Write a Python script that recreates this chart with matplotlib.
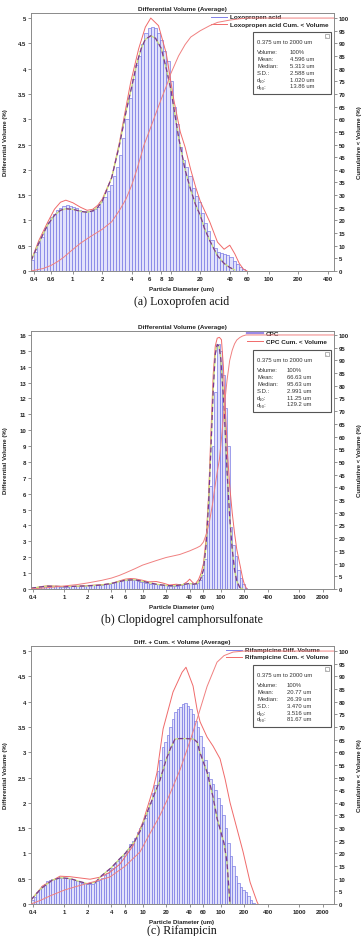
import numpy as np
import matplotlib
matplotlib.use("Agg")
import matplotlib.pyplot as plt
from matplotlib.patches import Rectangle

plt.rcParams['font.family'] = ['Liberation Sans', 'DejaVu Sans']

# LS analyser channel grid: 116 log-spaced channels from 0.375 um to 2000 um
edges = np.geomspace(0.375, 2000, 117)

# ---------------- (a) Loxoprofen acid ----------------
lox_bars = [0.22, 0.38, 0.55, 0.68, 0.85, 0.97, 1.06, 1.13, 1.2, 1.25,
            1.28, 1.3, 1.29, 1.26, 1.24, 1.21, 1.19, 1.18, 1.18, 1.19,
            1.22, 1.27, 1.36, 1.47, 1.58, 1.7, 1.87, 2.05, 2.3, 2.62,
            3.0, 3.42, 3.8, 4.08, 4.25, 4.48, 4.7, 4.8, 4.82, 4.8,
            4.7, 4.56, 4.35, 4.15, 3.75, 3.25, 2.9, 2.45, 2.2, 2.05,
            1.88, 1.65, 1.48, 1.36, 1.15, 0.95, 0.8, 0.62, 0.45, 0.38,
            0.36, 0.34, 0.31, 0.27, 0.2, 0.13, 0.07, 0.03]
lox_fit_d = [0.375, 0.45, 0.55, 0.65, 0.75, 0.85, 1.0, 1.2, 1.4, 1.6, 1.8, 2.0, 2.5, 3.0,
             3.5, 3.9, 4.7, 5.5, 6.25, 7.5, 9.0, 10.7, 12.5, 14, 16, 18, 20, 25, 30, 35,
             40, 45, 50, 55, 60]
lox_fit_v = [0.2, 0.6, 0.95, 1.22, 1.36, 1.4, 1.35, 1.26, 1.2, 1.22, 1.3, 1.42, 1.85, 2.55,
             3.25, 3.73, 4.39, 4.82, 5.0, 4.85, 4.3, 3.4, 2.75, 2.45, 2.0, 1.65, 1.38, 0.97,
             0.57, 0.43, 0.51, 0.34, 0.15, 0.04, 0.0]
lox_avg_d = [0.375, 0.45, 0.55, 0.65, 0.75, 0.85, 1.0, 1.2, 1.4, 1.6, 1.8, 2.0, 2.5, 3.0,
             3.5, 4.0, 4.5, 5.0, 5.5, 6.25, 7.0, 8.0, 9.0, 10, 11, 12, 14, 16, 18, 20, 22,
             25, 30, 35, 40, 45]
lox_avg_v = [0.2, 0.55, 0.9, 1.1, 1.2, 1.23, 1.22, 1.18, 1.16, 1.19, 1.26, 1.38, 1.85, 2.5,
             3.15, 3.65, 4.1, 4.4, 4.58, 4.65, 4.6, 4.4, 4.0, 3.6, 3.1, 2.65, 2.0, 1.6, 1.3,
             1.1, 0.85, 0.6, 0.3, 0.15, 0.07, 0.02]
lox_cum_d = [0.375, 0.5, 0.6, 0.7, 0.8, 1.0, 1.2, 1.5, 2.0, 2.5, 3.0, 3.5, 4.0, 4.5, 5.0,
             5.3, 6.0, 7.0, 8.0, 9.0, 10, 12, 14, 16, 20, 25, 30, 40, 50, 60, 463]
lox_cum_v = [0, 1.0, 2.2, 3.7, 5.3, 8.5, 11, 13.5, 16.5, 19.5, 24, 28.5, 34, 40, 46,
             49.5, 55, 62, 68, 73, 78, 85, 89.5, 92.5, 95, 97, 98.3, 99.2, 99.7, 100, 100]
lox_stats = [("Volume:", "100%"), ("Mean:", "4.596 um"), ("Median:", "5.313 um"),
             ("S.D.:", "2.588 um"), ("d\u2081\u2080:", "1.020 um"), ("d\u2089\u2080:", "13.86 um")]

# ---------------- (b) Clopidogrel camphorsulfonate ----------------
cpc_bars = [0.05, 0.1, 0.13, 0.16, 0.18, 0.19, 0.2, 0.19, 0.18, 0.17,
            0.16, 0.15, 0.15, 0.15, 0.15, 0.16, 0.17, 0.18, 0.19, 0.2,
            0.21, 0.22, 0.23, 0.24, 0.24, 0.25, 0.25, 0.26, 0.27, 0.29,
            0.31, 0.34, 0.38, 0.43, 0.48, 0.52, 0.56, 0.58, 0.6, 0.6,
            0.59, 0.56, 0.52, 0.47, 0.42, 0.38, 0.35, 0.33, 0.31, 0.3,
            0.29, 0.27, 0.25, 0.23, 0.21, 0.2, 0.2, 0.21, 0.22, 0.24,
            0.27, 0.31, 0.35, 0.38, 0.34, 0.3, 0.36, 0.55, 0.9, 1.9,
            4.3, 6.5, 9.0, 12.4, 15.4, 15.0, 13.5, 11.4, 9.0, 3.9,
            2.8, 2.1, 1.2, 0.7, 0.3, 0.05]
cpc_fit_d = [0.375, 0.5, 0.6, 0.8, 1.0, 1.5, 2, 3, 4, 5, 6, 7, 8, 10, 12, 15, 18, 22, 27,
             32, 37, 40, 44, 47, 52, 56, 60, 65, 70, 75, 80, 85, 90, 96, 102, 108, 115,
             122, 130, 140, 150, 160, 177, 190, 200, 215]
cpc_fit_v = [0.02, 0.15, 0.2, 0.18, 0.15, 0.17, 0.22, 0.27, 0.35, 0.5, 0.62, 0.66, 0.64,
             0.55, 0.45, 0.47, 0.38, 0.25, 0.3, 0.25, 0.45, 0.62, 0.4, 0.3, 0.6, 1.0, 1.6,
             3.2, 6.0, 10.0, 13.5, 15.3, 15.8, 15.85, 15.7, 14.0, 11.0, 8.5, 6.5, 4.8, 3.5,
             2.5, 1.45, 0.7, 0.3, 0.0]
cpc_avg_d = [0.375, 0.6, 1, 2, 3, 4, 6, 8, 10, 15, 20, 25, 30, 40, 45, 50, 55, 60, 65, 70,
             75, 80, 85, 90, 95, 100, 110, 120, 130, 140, 150, 160, 175, 190]
cpc_avg_v = [0.05, 0.18, 0.15, 0.2, 0.25, 0.35, 0.55, 0.58, 0.48, 0.3, 0.22, 0.2, 0.25,
             0.35, 0.3, 0.35, 0.6, 1.2, 2.8, 5.5, 9.0, 12.5, 14.8, 15.4, 15.3, 14.5, 11.5,
             7.5, 4.5, 2.5, 1.2, 0.5, 0.1, 0.0]
cpc_cum_d = [0.375, 0.5, 0.7, 1, 1.5, 2, 3, 4, 5, 6, 8, 10, 15, 20, 30, 40, 50, 55, 60, 66,
             72, 78, 84, 90, 96, 104, 112, 120, 130, 140, 150, 160, 175, 190, 210, 2800]
cpc_cum_v = [0, 0.3, 0.7, 1.2, 1.8, 2.4, 3.4, 4.3, 5.3, 6.3, 8.0, 9.4, 11.2, 12.4, 13.6,
             15, 16.3, 17, 18.5, 22, 27, 33, 40, 46, 51, 62, 73, 82, 90, 94, 96.5, 98, 99,
             99.6, 100, 100]
cpc_stats = [("Volume:", "100%"), ("Mean:", "66.63 um"), ("Median:", "95.63 um"),
             ("S.D.:", "2.991 um"), ("d\u2081\u2080:", "11.25 um"), ("d\u2089\u2080:", "129.2 um")]

# ---------------- (c) Rifampicin ----------------
rif_bars = [0.08, 0.14, 0.24, 0.3, 0.35, 0.4, 0.45, 0.48, 0.49, 0.5,
            0.51, 0.52, 0.52, 0.52, 0.51, 0.5, 0.49, 0.47, 0.45, 0.43,
            0.42, 0.41, 0.4, 0.4, 0.4, 0.41, 0.45, 0.48, 0.51, 0.57,
            0.62, 0.67, 0.72, 0.79, 0.85, 0.9, 0.95, 1.0, 1.08, 1.19,
            1.25, 1.3, 1.42, 1.5, 1.58, 1.7, 1.84, 2.0, 2.2, 2.35,
            2.62, 2.85, 3.1, 3.2, 3.35, 3.5, 3.65, 3.8, 3.85, 3.9,
            3.95, 3.97, 3.92, 3.85, 3.75, 3.62, 3.5, 3.33, 3.1, 2.85,
            2.6, 2.48, 2.38, 2.25, 2.1, 1.95, 1.75, 1.5, 1.2, 0.95,
            0.75, 0.55, 0.42, 0.33, 0.28, 0.24, 0.15, 0.07, 0.02]
rif_fit_d = [0.375, 0.53, 0.88, 1.18, 2.13, 2.86, 3.84, 5.15, 7.55, 10.1, 13.6, 15.3, 18.3,
             24.5, 32, 35.9, 44.2, 49.7, 54.4, 66.8, 79.7, 97.9, 113.5, 131.5, 161.5, 192.8,
             237, 291, 300]
rif_fit_v = [0.08, 0.36, 0.55, 0.54, 0.49, 0.53, 0.63, 0.79, 1.15, 1.62, 2.27, 2.6, 3.46,
             4.19, 4.58, 4.68, 4.31, 3.85, 3.6, 3.3, 3.12, 2.87, 2.47, 2.0, 1.48, 1.03, 0.43,
             0.04, 0.0]
rif_avg_d = [0.375, 0.5, 0.7, 0.9, 1.2, 1.6, 2.0, 2.5, 3.0, 4.0, 5.0, 6.0, 8.0, 9.3, 11.7,
             14, 16.7, 20, 22.5, 26, 30, 36, 45, 50, 54, 67, 80, 90, 98, 110, 120, 127, 131]
rif_avg_v = [0.08, 0.3, 0.47, 0.52, 0.5, 0.44, 0.4, 0.43, 0.56, 0.72, 0.88, 1.0, 1.25, 1.44,
             1.85, 2.15, 2.45, 2.85, 3.06, 3.26, 3.27, 3.27, 3.26, 3.2, 3.0, 2.6, 2.1, 1.68,
             1.48, 1.2, 0.83, 0.3, 0.0]
rif_cum_d = [0.375, 0.5, 0.656, 1.0, 1.45, 2.5, 3.84, 6, 9.29, 12, 16.7, 22, 30.1, 40, 49.7,
             66.8, 89.5, 110, 143.6, 200, 2800]
rif_cum_v = [0, 1.5, 3.2, 5.5, 7, 9, 10.7, 15, 20.6, 27, 35, 43, 53, 64, 73, 86, 95.6, 98.2,
             99.6, 100, 100]
rif_stats = [("Volume:", "100%"), ("Mean:", "20.77 um"), ("Median:", "26.39 um"),
             ("S.D.:", "3.470 um"), ("d\u2081\u2080:", "3.516 um"), ("d\u2089\u2080:", "81.67 um")]

ticks_a = [0.4, 0.6, 1, 2, 4, 6, 8, 10, 20, 40, 60, 100, 200, 400]
ticks_bc = [0.4, 1, 2, 4, 6, 10, 20, 40, 60, 100, 200, 400, 1000, 2000]

W, H = 363, 937
TXT = '#222222'
BAR_FILL = '#e2e2fb'
BAR_EDGE = '#6f6fe2'
RED = '#f06a6a'
CUM = '#f08080'
PURPLE = '#7b3596'
GREEN = '#c9e47a'


def fmt(v):
    return ('%g' % v)


def panel(top, bars, fit, avg, cum, stats, xmax, ymax, ystep, xticks, title,
          names, leg_x, val_dx, caption, cap_dy=30, thick_leg=False):
    left, width, height = 31, 303, 258
    ax = fig.add_axes([left / W, 1 - (top + height) / H, width / W, height / H])
    ax.set_xscale('log')
    n = len(bars)
    ax.bar(edges[:n], bars, width=np.diff(edges)[:n], align='edge',
           color=BAR_FILL, edgecolor=BAR_EDGE, linewidth=0.45, zorder=2)
    ax.plot(fit[0], fit[1], color=RED, lw=0.7, zorder=4)
    ax.plot(avg[0], avg[1], color=GREEN, lw=0.9, zorder=4)
    ax.plot(avg[0], avg[1], color=PURPLE, lw=0.9, dashes=(4, 2.5), zorder=5)
    ax.set_xlim(0.375, xmax)
    ax.set_ylim(0, ymax)
    ax.set_xticks(xticks)
    ax.set_xticklabels([fmt(t) for t in xticks])
    ax.xaxis.set_minor_locator(matplotlib.ticker.NullLocator())
    nt = int(round((ymax - 0.2) / ystep))
    yt = [i * ystep for i in range(nt + 1)]
    ax.set_yticks(yt)
    ax.set_yticklabels([fmt(t) for t in yt])

    ax2 = ax.twinx()
    ax2.set_ylim(0, 100 * ymax / yt[-1])
    ax2.set_yticks(range(0, 101, 5))
    ax2.plot(cum[0], cum[1], color=CUM, lw=0.7, zorder=3)
    ax2.set_xlim(0.375, xmax)

    for a in (ax, ax2):
        for s in a.spines.values():
            s.set_color('#8a8a8a')
            s.set_linewidth(0.6)
        a.tick_params(length=2, width=0.5, color='#666666', labelsize=4.3,
                      labelcolor=TXT, pad=1.5)
        for lab in a.get_xticklabels() + a.get_yticklabels():
            lab.set_fontweight('bold')

    ax.set_title(title, fontsize=4.6, fontweight='bold', color=TXT, pad=2.5)

    # legend (drawn in axes coordinates)
    y1 = 1 - (names[2] - top) / height
    y2 = 1 - (names[3] - top) / height
    lx0 = (leg_x - 19 - left) / width
    lx1 = (leg_x - 3 - left) / width
    tx = (leg_x - left) / width
    ax.plot([lx0, lx1], [y1, y1], transform=ax.transAxes, clip_on=False,
            color='#9a8ae6' if thick_leg else '#8080e8', lw=1.6 if thick_leg else 0.7, zorder=6)
    ax.plot([lx0, lx1], [y2, y2], transform=ax.transAxes, clip_on=False,
            color=RED, lw=0.7, zorder=6)
    ax.text(tx, y1, names[0], transform=ax.transAxes, fontsize=4.6, fontweight='bold',
            color=TXT, va='center', ha='left', zorder=1)
    ax.text(tx, y2, names[1], transform=ax.transAxes, fontsize=4.6, fontweight='bold',
            color=TXT, va='center', ha='left', zorder=1)

    # statistics box
    bx0, bx1 = 253, 331
    by0 = top + 19
    bh = 62
    box = Rectangle(((bx0 - left) / width, 1 - (by0 + bh - top) / height),
                    (bx1 - bx0) / width, bh / height, transform=ax.transAxes,
                    facecolor='white', edgecolor='#555555', lw=0.8, zorder=7)
    ax.add_patch(box)
    sq = Rectangle(((bx1 - 6 - left) / width, 1 - (by0 + 6 - top) / height),
                   4 / width, 4 / height, transform=ax.transAxes,
                   facecolor='white', edgecolor='#777777', lw=0.4, zorder=8)
    ax.add_patch(sq)
    ax.text((bx1 - 4 - left) / width, 1 - (by0 + 4 - top) / height, '-',
            transform=ax.transAxes, fontsize=3, ha='center', va='center',
            color='#555555', zorder=9)
    tx0 = (bx0 + 4 - left) / width
    tx1 = (bx0 + val_dx - left) / width
    ax.text(tx0, 1 - (by0 + 10 - top) / height, '0.375 um to 2000 um',
            transform=ax.transAxes, fontsize=4.2, color='#333333', va='center', zorder=9)
    offs = [20, 26.8, 33.6, 40.4, 47.2, 54]
    for (lab, val), o in zip(stats, offs):
        yy = 1 - (by0 + o - top) / height
        ax.text(tx0, yy, lab, transform=ax.transAxes, fontsize=4.2, color='#333333',
                va='center', zorder=9)
        ax.text(tx1, yy, val, transform=ax.transAxes, fontsize=4.2, color='#333333',
                va='center', zorder=9)

    # axis labels and caption
    mid = 1 - (top + height / 2) / H
    fig.text(6 / W, mid, 'Differential Volume (%)', rotation=90, fontsize=4.4,
             fontweight='bold', color=TXT, ha='center', va='center')
    fig.text(359 / W, mid, 'Cumulative < Volume (%)', rotation=90, fontsize=4.4,
             fontweight='bold', color=TXT, ha='center', va='center')
    fig.text(182 / W, 1 - (top + height + 18) / H, 'Particle Diameter (um)', fontsize=4.4,
             fontweight='bold', color=TXT, ha='center', va='center')
    fig.text(182 / W, 1 - (top + height + cap_dy) / H, caption, fontsize=8.6,
             family='Liberation Serif', color='#111111', ha='center', va='center')
    return ax


fig = plt.figure(figsize=(W / 100, H / 100), dpi=100)

panel(14, lox_bars, (lox_fit_d, lox_fit_v), (lox_avg_d, lox_avg_v), (lox_cum_d, lox_cum_v),
      lox_stats, 463, 5.1, 0.5, ticks_a, 'Differential Volume (Average)',
      ('Loxopropen acid', 'Loxopropen acid Cum. < Volume', 18, 25), 230, 37,
      '(a) Loxoprofen acid')

panel(332, cpc_bars, (cpc_fit_d, cpc_fit_v), (cpc_avg_d, cpc_avg_v), (cpc_cum_d, cpc_cum_v),
      cpc_stats, 2800, 16.25, 1, ticks_bc, 'Differential Volume (Average)',
      ('CPC', 'CPC Cum. < Volume', 334, 342), 266, 34,
      '(b) Clopidogrel camphorsulfonate', thick_leg=True)

panel(647, rif_bars, (rif_fit_d, rif_fit_v), (rif_avg_d, rif_avg_v), (rif_cum_d, rif_cum_v),
      rif_stats, 2800, 5.1, 0.5, ticks_bc, 'Diff. + Cum. < Volume (Average)',
      ('Rifampicine Diff. Volume', 'Rifampicine Cum. < Volume', 651, 658), 245, 34,
      '(c) Rifampicin', cap_dy=26)

fig.savefig('out.png', dpi=100)
